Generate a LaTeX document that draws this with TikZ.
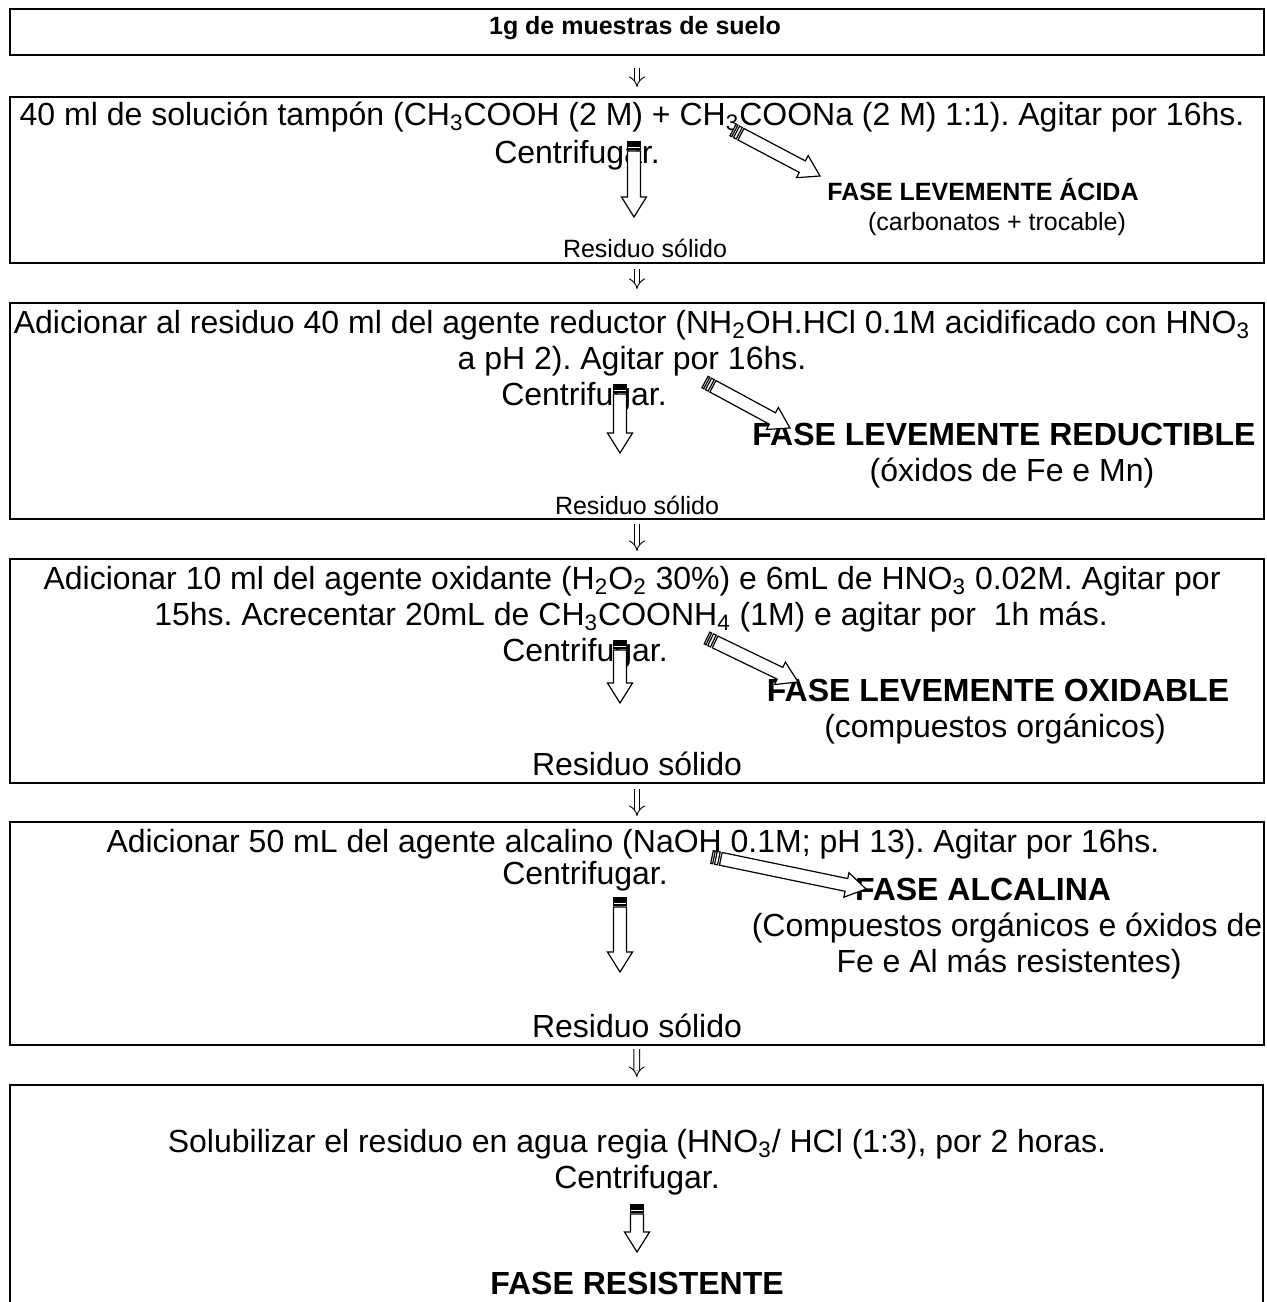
\documentclass[tikz,border=0pt]{standalone}
\usepackage{fontspec}
\setmainfont{Liberation Sans}
\usetikzlibrary{arrows.meta,fit}
\frenchspacing

\tikzset{
  box/.style={draw,line width=1pt,inner sep=0pt},
  txt/.style={anchor=base,inner sep=0pt,font=\fontsize{16}{18}\selectfont},
  txtbf/.style={txt,font=\fontsize{16}{18}\selectfont\bfseries},
  small/.style={anchor=base,inner sep=0pt,font=\fontsize{12.5}{15}\selectfont},
  smallbf/.style={small,font=\fontsize{12.5}{15}\selectfont\bfseries},
  dnarrow/.style={double,double distance=2.4pt,line width=0.45pt,-{Implies[length=4pt,width=8pt]}},
  blockarrow/.style={draw,line width=0.6pt,fill=white,line join=miter},
}

% hollow striped arrow from tail (#1,#2) to tip (#3,#4), in pixels
\newcommand{\stripedarrow}[4]{%
  \pgfmathsetmacro\arrang{atan2(#2-#4,#3-#1)}%
  \pgfmathsetmacro\arrlen{veclen(#3-#1,#4-#2)}%
  \begin{scope}[shift={(#1,#2)},rotate=\arrang]
    \draw[blockarrow] (0,-6.5) rectangle (2,6.5);
    \draw[blockarrow] (4,-6.5) rectangle (7,6.5);
    \draw[blockarrow] (9,-6.5) -- (\arrlen-20,-6.5) -- (\arrlen-20,-12.5)
      -- (\arrlen,0) -- (\arrlen-20,12.5) -- (\arrlen-20,6.5) -- (9,6.5) -- cycle;
  \end{scope}}

\begin{document}
\begin{tikzpicture}[x=0.5pt,y=-0.5pt]
\useasboundingbox (0,0) rectangle (1266,1302);
\clip (0,0) rectangle (1266,1302);

% boxes
\node[box,fit={(10,9) (1264,55)}] (b1) {};
\node[box,fit={(10,97) (1264,263)}] (b2) {};
\node[box,fit={(10,303) (1264,519)}] (b3) {};
\node[box,fit={(10,559) (1264,783)}] (b4) {};
\node[box,fit={(10,822) (1264,1045)}] (b5) {};
\node[box,fit={(10,1085) (1263,1340)}] (b6) {};

% connectors between boxes
\foreach \a/\b/\s/\e in {b1/b2/6pt/4.5pt,b2/b3/2.5pt/6.5pt,b3/b4/2pt/3.5pt,b4/b5/2.5pt/2.5pt,b5/b6/1.5pt/3.5pt}
  \draw[dnarrow,shorten <=\s,shorten >=\e] (\a) -- (\b);

% box 1
\node[smallbf] (t1) at (635,34) {1g de muestras de suelo};

% box 2
\node[txt] (s1a) at (632,125) {40 ml de solución tampón (CH\textsubscript{3}COOH (2 M) + CH\textsubscript{3}COONa (2 M) 1:1). Agitar por 16hs.};
\node[txt] (s1b) at (577,163) {Centrifugar.};
\node[smallbf] (f1) at (983,200) {FASE LEVEMENTE ÁCIDA};
\node[small] (f1n) at (997,230) {(carbonatos + trocable)};
\node[small] (r1) at (645,257) {Residuo sólido};
\stripedarrow{634}{142}{634}{217}
\stripedarrow{733}{130}{820}{176}

% box 3
\node[txt] (s2a) at (632,333) {Adicionar al residuo 40 ml del agente reductor (NH\textsubscript{2}OH.HCl 0.1M acidificado con HNO\textsubscript{3}};
\node[txt] (s2b) at (632,369) {a pH 2). Agitar por 16hs.};
\node[txt] (s2c) at (584,405) {Centrifugar.};
\node[txtbf] (f2) at (1004,445) {FASE LEVEMENTE REDUCTIBLE};
\node[txt] (f2n) at (1012,481) {(óxidos de Fe e Mn)};
\node[small] (r2) at (637,514) {Residuo sólido};
\stripedarrow{620}{385}{620}{453}
\stripedarrow{705}{382}{790}{428}

% box 4
\node[txt] (s3a) at (632,589) {Adicionar 10 ml del agente oxidante (H\textsubscript{2}O\textsubscript{2} 30\%) e 6mL de HNO\textsubscript{3} 0.02M. Agitar por};
\node[txt] (s3b) at (631,625) {15hs. Acrecentar 20mL de CH\textsubscript{3}COONH\textsubscript{4} (1M) e agitar por\ \ 1h más.};
\node[txt] (s3c) at (585,661) {Centrifugar.};
\node[txtbf] (f3) at (998,701) {FASE LEVEMENTE OXIDABLE};
\node[txt] (f3n) at (995,737) {(compuestos orgánicos)};
\node[txt] (r3) at (637,775) {Residuo sólido};
\stripedarrow{620}{641}{620}{703}
\stripedarrow{707}{638}{798}{682}

% box 5
\node[txt] (s4a) at (633,852) {Adicionar 50 mL del agente alcalino (NaOH 0.1M; pH 13). Agitar por 16hs.};
\node[txt] (s4b) at (585,884) {Centrifugar.};
\node[txtbf] (f4) at (983,900) {FASE ALCALINA};
\node[txt] (f4n) at (1007,936) {(Compuestos orgánicos e óxidos de};
\node[txt] (f4m) at (1009,972) {Fe e Al más resistentes)};
\node[txt] (r4) at (637,1037) {Residuo sólido};
\stripedarrow{620}{898}{620}{972}
\stripedarrow{712}{857}{866}{889}

% box 6
\node[txt] (s5a) at (637,1152) {Solubilizar el residuo en agua regia (HNO\textsubscript{3}/ HCl (1:3), por 2 horas.};
\node[txt] (s5b) at (637,1188) {Centrifugar.};
\node[txtbf] (f5) at (637,1294) {FASE RESISTENTE};
\stripedarrow{637}{1205}{637}{1252}
\end{tikzpicture}
\end{document}
